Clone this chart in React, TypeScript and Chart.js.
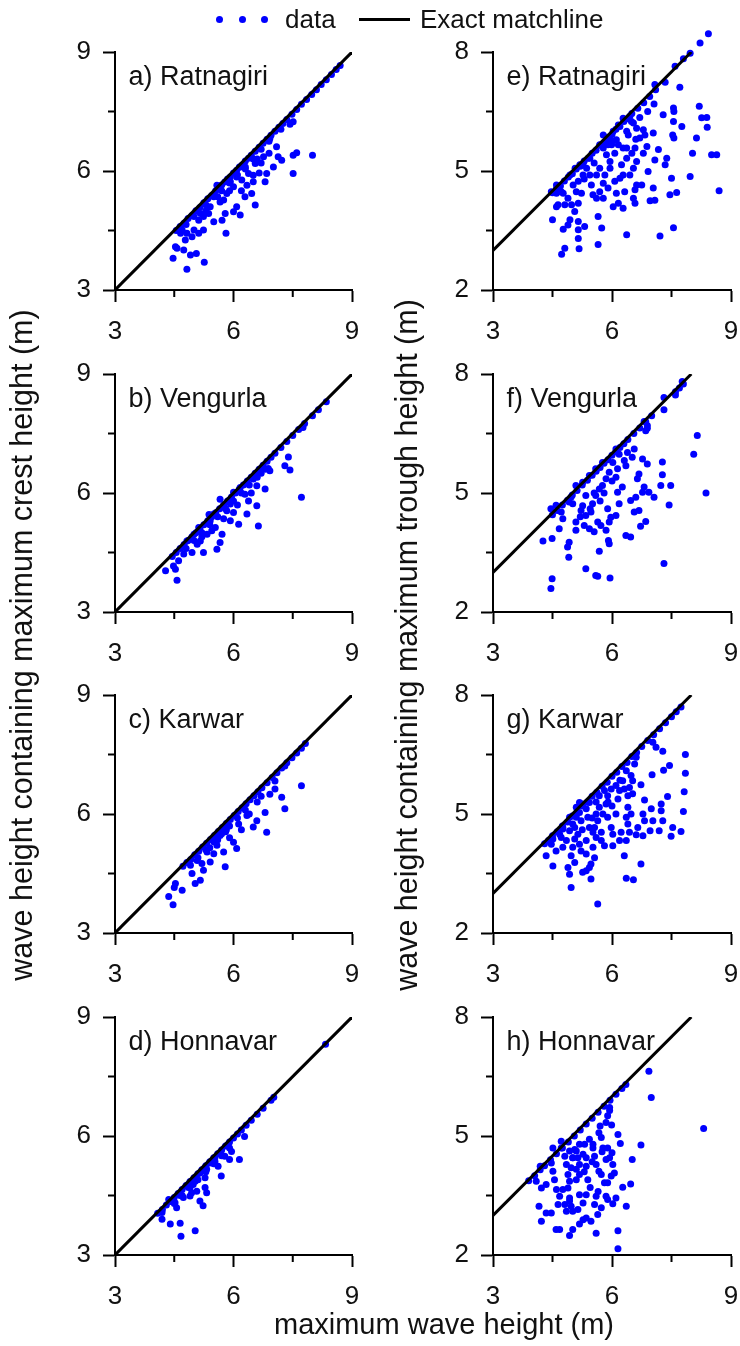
import React, { useEffect, useRef } from 'react';
import { Chart, registerables } from 'chart.js';

Chart.register(...registerables);

const FONT = "'Liberation Sans', Arial, Helvetica, sans-serif";
const TEXT = '#111';
const DOT = '#0000ff';
const DOT_R = 3.5;

type Pt = [number, number];

// ---------- tick labels / axis values ----------
const waveTicks = [3, 6, 9];
const waveMinor = [4.5, 7.5];
const crestTicks = [3, 6, 9];
const crestMinor = [4.5, 7.5];
const troughTicks = [2, 5, 8];
const troughMinor = [3.5, 6.5];
const crestMatch = [3, 9];
const troughMatch = [3, 8];

// ---------- data: [maximum wave height, crest/trough height] ----------
const crestRatnagiri: Pt[] = [
  [4.55,4.5],[4.65,4.6],[4.75,4.68],[4.85,4.8],[4.95,4.88],[5.05,5.0],[5.15,5.08],[5.25,5.2],[5.35,5.3],[5.45,5.38],
  [5.55,5.5],[5.62,5.55],[5.7,5.65],[5.78,5.72],[5.85,5.8],[5.92,5.85],[6.0,5.95],[6.08,6.02],[6.15,6.1],[6.22,6.15],
  [6.3,6.25],[6.38,6.32],[6.45,6.4],[6.55,6.5],[6.65,6.6],[6.75,6.7],[6.85,6.8],[6.95,6.9],[7.05,7.0],[7.15,7.1],
  [7.25,7.2],[7.35,7.3],[7.48,7.43],[7.6,7.55],[7.72,7.68],[7.85,7.8],[7.98,7.93],[8.1,8.05],[8.22,8.18],[8.35,8.3],
  [8.48,8.43],[8.6,8.56],[8.7,8.66],
  [5.3,5.15],[5.5,5.35],[5.7,5.5],[5.9,5.7],[6.1,5.9],[6.3,6.1],[6.5,6.3],[6.7,6.55],[5.0,4.85],[4.8,4.65],[6.9,6.75],[7.2,7.05],
  [7.51,7.24],[7.43,7.18],[7.09,6.61],[6.92,6.82],[6.76,6.36],[7.01,6.10],[7.13,6.36],[7.22,6.27],[7.51,6.40],[7.60,6.46],
  [8.0,6.40],[7.51,5.94],[6.84,5.94],[6.80,5.73],[6.55,6.19],[6.50,5.89],[6.5,5.73],[6.38,5.94],[6.34,5.64],[6.55,5.14],
  [6.46,5.43],[6.29,5.35],[6.21,5.77],[6.08,5.85],[6.0,5.60],[5.92,5.73],[6.17,4.89],[6.08,5.10],[6.0,4.97],[5.83,5.43],
  [5.75,5.27],[5.66,5.22],[5.79,4.93],[5.71,4.76],[5.50,4.72],[5.81,4.43],[5.41,5.10],[5.37,4.93],[5.24,4.85],[5.16,4.93],
  [5.12,4.76],[5.24,4.51],[5.12,4.43],[5.0,4.51],[4.82,4.43],[4.95,4.34],[4.70,4.51],[4.66,4.43],[4.78,4.26],[4.53,4.09],
  [4.57,4.05],[4.74,4.01],[4.47,3.80],[4.91,3.88],[5.06,3.92],[4.82,3.52],[5.26,3.70],[5.58,5.64],[6.17,6.10],[6.3,6.05],
  [6.6,6.3],[5.9,5.5],[5.6,5.35],[5.3,5.0],[6.7,6.2],[6.9,6.45],[6.2,5.5],[6.65,5.95],
];

const crestVengurla: Pt[] = [
  [4.45,4.4],[4.55,4.5],[4.65,4.6],[4.75,4.7],[4.85,4.8],[4.95,4.9],[5.05,5.0],[5.15,5.1],[5.25,5.2],[5.35,5.3],
  [5.45,5.4],[5.55,5.5],[5.65,5.6],[5.75,5.7],[5.85,5.8],[5.95,5.9],[6.05,6.0],[6.15,6.1],[6.25,6.2],[6.35,6.3],
  [6.45,6.4],[6.55,6.5],[6.65,6.6],[6.75,6.7],[6.85,6.8],[6.95,6.9],[7.05,7.0],[7.2,7.15],[7.35,7.3],[7.5,7.45],
  [7.65,7.6],[7.8,7.75],[8.0,7.95],[8.15,8.1],[8.35,8.3],
  [5.2,5.0],[5.4,5.2],[5.6,5.4],[5.8,5.6],[6.0,5.8],[6.2,6.0],[6.4,6.2],[6.6,6.4],[6.8,6.6],[5.0,4.8],[4.8,4.6],
  [7.72,5.89],[7.39,6.91],[7.30,6.69],[7.43,6.58],[7.76,7.65],[6.92,6.56],[6.88,6.62],[6.80,6.10],[6.59,6.18],[6.63,5.17],
  [6.59,5.68],[6.34,5.47],[6.38,5.80],[6.29,5.97],[6.17,6.14],[6.13,5.21],[6.0,5.51],[5.92,5.30],[5.92,5.72],[5.83,5.55],
  [5.71,4.96],[5.66,4.75],[5.58,4.58],[5.54,5.13],[5.50,5.47],[5.41,5.30],[5.33,4.96],[5.24,4.50],[5.16,4.79],[5.08,4.71],
  [5.0,4.96],[4.95,4.50],[4.74,4.46],[4.61,4.29],[4.53,4.08],[4.48,4.16],[4.28,4.04],[4.57,3.80],[4.82,4.79],[5.12,5.13],
  [5.38,5.46],[5.66,5.84],[6.0,6.02],[6.5,6.35],[6.7,6.5],[6.45,6.0],[6.1,5.7],[5.75,5.35],[5.45,5.05],[5.2,4.9],
];

const crestKarwar: Pt[] = [
  [4.72,4.68],[4.82,4.78],[4.92,4.85],[5.02,4.97],[5.12,5.06],[5.22,5.17],[5.32,5.26],[5.42,5.36],[5.52,5.46],[5.62,5.56],
  [5.72,5.66],[5.82,5.76],[5.92,5.86],[6.02,5.96],[6.12,6.06],[6.22,6.16],[6.32,6.26],[6.42,6.36],[6.52,6.46],[6.62,6.56],
  [6.72,6.66],[6.85,6.79],[6.98,6.92],[7.1,7.04],[7.22,7.16],[7.35,7.29],[7.48,7.42],[7.6,7.54],[7.72,7.66],[7.82,7.78],
  [5.1,4.9],[5.3,5.1],[5.5,5.3],[5.7,5.5],[5.9,5.7],[6.1,5.9],[6.3,6.1],[5.4,5.15],[5.6,5.35],[5.8,5.55],
  [7.72,6.71],[7.30,7.21],[7.05,6.83],[7.05,6.63],[6.92,6.5],[7.22,6.42],[7.30,6.13],[6.80,6.04],[6.84,5.54],[6.59,5.83],
  [6.50,5.67],[6.34,5.96],[6.13,5.75],[6.08,5.13],[6.0,5.29],[5.79,4.67],[5.75,5.04],[5.58,5.21],[5.41,4.79],[5.24,4.58],
  [5.16,4.33],[5.03,4.25],[4.70,4.08],[4.53,4.25],[4.36,3.92],[4.47,3.71],[4.91,4.71],[5.08,4.83],[5.33,5.04],[5.50,5.38],
  [5.66,5.46],[5.82,5.6],[6.2,5.6],[6.4,6.0],[6.6,6.3],[6.7,6.45],[5.9,5.4],[5.5,5.0],[5.2,4.75],[4.95,4.5],[4.5,4.15],
];

const crestHonnavar: Pt[] = [
  [4.08,4.05],[4.2,4.15],[4.3,4.26],[4.4,4.35],[4.5,4.45],[4.6,4.55],[4.7,4.65],[4.8,4.75],[4.9,4.85],[5.0,4.95],
  [5.1,5.05],[5.2,5.15],[5.3,5.25],[5.4,5.35],[5.5,5.45],[5.6,5.55],[5.7,5.65],[5.8,5.75],[5.9,5.85],[6.0,5.95],
  [6.1,6.05],[6.2,6.15],[6.32,6.27],[6.45,6.4],[6.6,6.55],[6.75,6.7],[6.95,6.9],[7.02,6.98],[8.33,8.31],
  [4.9,4.7],[5.1,4.9],[5.3,5.1],[5.5,5.3],[5.7,5.5],[5.9,5.7],[4.7,4.5],[4.5,4.3],
  [6.28,5.99],[6.15,5.41],[5.95,5.61],[5.90,5.41],[5.78,5.49],[5.86,5.78],[5.69,4.99],[5.61,5.24],[5.53,5.36],[5.40,5.32],
  [5.32,5.16],[5.28,4.95],[5.32,4.57],[5.28,4.70],[5.15,4.36],[5.23,4.24],[5.03,4.86],[5.07,4.61],[4.94,4.57],[4.90,4.49],
  [4.86,4.70],[4.73,4.45],[4.65,4.50],[4.56,4.19],[4.52,4.32],[4.36,4.40],[4.65,3.80],[4.40,3.78],[4.19,3.90],[4.19,4.07],
  [4.67,3.47],[5.03,3.61],[5.53,5.45],[5.15,5.07],[4.98,4.78],
];

const troughRatnagiri: Pt[] = [
  [4.5,4.45],[4.6,4.55],[4.7,4.62],[4.8,4.75],[4.9,4.85],[5.0,4.93],[5.1,5.05],[5.2,5.12],[5.3,5.25],[5.4,5.32],
  [5.5,5.45],[5.6,5.52],[5.7,5.65],[5.8,5.72],[5.9,5.85],[6.0,5.92],[6.1,6.05],[6.2,6.12],[6.3,6.25],[6.4,6.32],
  [6.5,6.45],[6.65,6.58],[6.8,6.72],[6.95,6.88],[7.1,7.05],
  [8.43,8.46],[8.22,8.23],[7.97,7.97],[7.80,7.83],[7.59,7.64],[7.34,7.24],[7.71,7.11],[7.08,7.18],[7.06,6.69],[7.29,6.42],
  [7.55,6.59],[7.56,6.50],[7.76,6.12],[7.55,6.25],[7.53,5.91],[7.56,5.83],[8.20,6.63],[8.26,6.34],[8.39,6.35],[8.40,6.10],
  [8.13,5.83],[8.03,5.45],[8.51,5.41],[8.64,5.41],[8.70,4.50],[7.97,4.86],[7.63,4.46],[7.46,4.40],[7.55,3.57],[7.21,3.36],
  [7.38,5.32],[7.34,5.16],[7.50,4.82],[7.08,5.28],[7.17,5.54],[7.04,5.96],[6.83,5.91],[6.88,5.62],[6.79,5.45],[6.91,4.99],
  [7.04,4.57],[6.96,4.25],[7.08,4.26],[6.79,6.04],[6.62,6.08],[6.54,6.21],[6.70,5.83],[6.58,5.58],[6.50,5.45],[6.62,5.24],
  [6.54,5.07],[6.45,4.90],[6.62,4.65],[6.75,4.65],[6.58,4.53],[6.54,4.31],[6.58,4.19],[6.32,4.48],[6.37,3.39],[6.28,4.06],
  [6.16,4.19],[6.03,4.10],[6.11,4.44],[6.28,4.90],[6.20,4.82],[6.07,4.74],[6.24,5.16],[6.37,5.32],[6.37,5.58],[6.28,5.58],
  [6.41,5.91],[6.37,6.0],[6.49,6.25],[6.45,6.38],[6.28,6.33],[6.11,5.79],[5.99,5.66],[6.16,5.66],[6.07,5.45],[5.86,5.41],
  [5.78,5.58],[5.69,5.66],[5.95,5.24],[5.95,5.07],[5.82,4.90],[5.69,5.07],[5.61,4.90],[5.78,4.69],[5.90,4.57],[5.69,4.48],
  [5.61,4.31],[5.78,4.31],[5.65,3.85],[5.74,3.56],[5.65,3.15],[5.48,4.65],[5.52,4.40],[5.44,4.90],[5.36,5.07],[5.27,5.16],
  [5.44,5.32],[5.27,4.90],[5.15,4.74],[5.02,4.65],[5.10,4.48],[5.23,4.44],[5.15,4.19],[4.98,4.15],[5.06,3.98],[5.15,3.73],
  [5.31,3.60],[5.15,3.52],[5.15,3.30],[5.17,3.04],[4.94,3.77],[4.89,3.64],[4.89,4.31],[4.77,4.44],[4.81,4.15],[4.72,4.48],
  [4.64,4.15],[4.60,4.10],[4.50,3.77],[4.77,3.53],[4.81,3.05],[4.73,2.90],[4.60,4.44],[4.47,4.48],[4.60,4.65],[4.94,4.90],
  [5.07,5.07],[5.19,5.16],[5.78,5.91],[5.95,5.83],[5.90,5.66],[6.03,6.0],[6.16,6.16],[6.0,5.75],[5.85,5.75],[5.55,5.2],
  [5.3,4.8],[6.6,5.8],[6.7,6.35],[6.9,6.5],
];

const troughVengurla: Pt[] = [
  [4.5,4.45],[4.62,4.56],[4.75,4.7],[4.88,4.82],[5.0,4.95],[5.12,5.06],[5.25,5.2],[5.38,5.32],[5.5,5.45],[5.6,5.55],
  [5.7,5.64],[5.8,5.75],[5.9,5.84],[6.0,5.95],[6.1,6.04],[6.2,6.15],[6.3,6.24],[6.4,6.35],[6.55,6.5],[6.7,6.64],
  [6.85,6.8],[7.0,6.95],[7.6,7.55],[7.7,7.65],[7.8,7.75],
  [7.77,7.81],[7.60,7.47],[7.31,7.41],[7.31,7.10],[6.89,6.70],[6.89,6.63],[6.85,6.57],[6.81,6.80],[8.15,6.45],[8.06,5.98],
  [8.37,5.00],[7.27,5.78],[7.27,5.46],[7.23,5.19],[7.48,5.19],[7.44,4.70],[7.31,3.22],[6.89,5.73],[6.77,5.86],[6.56,6.11],
  [6.51,5.90],[6.68,5.48],[6.64,5.36],[6.81,5.15],[6.77,5.02],[6.93,5.02],[7.06,4.89],[6.60,4.89],[6.47,4.81],[6.68,4.56],
  [6.56,4.52],[6.85,4.28],[6.72,4.16],[6.35,3.93],[6.47,3.89],[6.39,6.02],[6.35,5.69],[6.31,5.82],[6.18,5.98],[6.14,5.61],
  [6.10,5.40],[6.26,5.15],[6.14,5.02],[6.18,4.73],[6.10,4.43],[5.97,4.39],[5.89,4.60],[5.93,4.27],[5.85,4.06],[5.91,3.80],
  [5.93,3.72],[5.95,2.86],[5.68,3.53],[5.59,2.92],[5.64,2.90],[5.34,3.09],[5.72,4.18],[5.64,4.27],[5.55,4.02],[5.43,4.10],
  [5.30,4.18],[5.34,4.43],[5.47,4.52],[5.51,4.73],[5.59,4.94],[5.68,5.10],[5.76,5.19],[5.85,5.36],[5.93,5.52],[6.02,5.77],
  [6.10,6.11],[5.34,4.94],[5.26,4.68],[5.22,4.56],[5.09,4.27],[5.09,4.06],[4.92,3.76],[4.88,3.64],[4.91,3.38],[5.01,4.73],
  [4.97,4.90],[4.72,4.52],[4.76,4.35],[4.67,4.10],[4.49,3.85],[4.26,3.79],[4.46,2.59],[4.49,2.84],[4.46,4.60],[4.59,4.69],
  [4.92,4.77],[5.09,5.19],[5.26,5.27],[5.43,5.44],[5.59,5.61],[5.76,5.77],[5.55,5.0],[5.7,4.8],[5.45,4.6],[5.8,5.0],
  [6.0,5.3],[5.2,4.4],
];

const troughKarwar: Pt[] = [
  [4.3,4.25],[4.4,4.33],[4.5,4.45],[4.62,4.55],[4.75,4.7],[4.88,4.8],[5.0,4.95],[5.12,5.05],[5.25,5.2],[5.38,5.3],
  [5.5,5.45],[5.62,5.55],[5.75,5.7],[5.88,5.8],[6.0,5.95],[6.12,6.05],[6.25,6.2],[6.38,6.3],[6.5,6.45],[6.62,6.55],
  [6.75,6.7],[6.9,6.85],[7.05,7.0],[7.2,7.15],[7.35,7.3],[7.5,7.45],[7.62,7.58],[7.74,7.7],
  [7.03,6.81],[7.11,6.68],[7.28,6.58],[7.85,6.50],[7.45,6.22],[7.30,6.10],[7.01,5.99],[7.85,6.03],[7.82,5.56],[7.80,5.06],
  [7.74,4.56],[7.53,4.66],[7.49,4.44],[7.24,5.25],[7.24,5.08],[7.40,5.44],[7.28,4.83],[7.19,4.58],[6.96,4.58],[6.99,5.13],
  [6.82,5.35],[6.78,5.0],[7.03,4.83],[6.82,4.83],[6.78,4.45],[6.61,4.48],[6.65,4.66],[6.73,5.74],[6.73,3.74],[6.54,3.34],
  [6.36,3.38],[6.61,6.43],[6.57,6.26],[6.48,5.97],[6.52,5.84],[6.44,5.67],[6.40,5.46],[6.52,5.51],[6.36,6.09],[6.27,5.84],
  [6.31,5.63],[6.19,5.59],[6.15,5.38],[6.10,5.72],[6.40,5.17],[6.36,4.92],[6.48,5.0],[6.40,4.75],[6.23,4.54],[6.44,4.54],
  [6.36,4.33],[6.31,3.95],[6.19,4.33],[6.02,4.49],[6.02,4.20],[5.98,4.66],[6.10,5.0],[5.89,4.92],[5.85,5.25],[5.89,5.46],
  [5.98,5.63],[5.81,5.59],[5.68,5.46],[5.68,5.17],[5.77,5.0],[5.60,5.0],[5.64,4.83],[5.56,4.66],[5.73,4.54],[5.73,4.33],
  [5.81,4.20],[5.60,4.41],[5.52,4.54],[5.52,4.16],[5.35,4.33],[5.43,4.66],[5.39,4.92],[5.35,5.13],[5.43,5.29],[5.26,5.25],
  [5.18,5.04],[5.22,4.83],[5.10,4.92],[5.06,4.66],[5.14,4.49],[5.06,4.37],[5.18,4.24],[5.22,4.07],[5.35,3.99],[5.56,3.90],
  [5.47,3.74],[5.43,3.65],[5.35,3.57],[5.26,3.53],[5.47,3.36],[5.64,2.73],[4.97,3.15],[4.93,3.48],[4.89,3.65],[5.06,3.78],
  [4.97,3.95],[5.01,4.16],[4.85,4.33],[4.76,4.16],[4.72,4.41],[4.76,4.62],[4.93,4.58],[5.01,4.75],[4.93,4.92],[5.10,5.17],
  [5.18,5.29],[4.51,3.69],[4.34,3.95],[4.47,4.24],[4.51,4.37],[4.68,4.49],[4.76,4.66],[4.59,4.07],[5.6,5.3],[5.9,5.3],
  [6.2,5.85],[6.0,5.2],[5.5,4.9],[5.25,4.6],
];

const troughHonnavar: Pt[] = [
  [3.9,3.87],[4.05,4.0],[4.19,4.15],[4.3,4.25],[4.45,4.4],[4.6,4.55],[4.75,4.7],[4.9,4.85],[5.05,5.0],[5.2,5.15],
  [5.35,5.3],[5.5,5.45],[5.65,5.6],[5.8,5.75],[5.95,5.9],[6.1,6.05],[6.25,6.2],[6.35,6.3],
  [6.93,6.63],[6.99,5.97],[8.31,5.19],[6.73,4.77],[6.51,4.41],[6.47,3.79],[6.27,3.71],[6.36,3.23],[5.94,5.72],[5.94,5.64],
  [5.89,5.51],[5.99,5.28],[5.85,5.34],[5.70,5.25],[5.67,5.08],[5.73,4.96],[5.77,4.70],[5.89,4.70],[6.15,5.04],[6.21,4.81],
  [6.0,4.58],[5.94,4.45],[5.85,4.41],[6.02,4.28],[6.06,4.07],[5.98,3.99],[5.89,3.82],[5.81,3.82],[5.73,4.03],[5.67,4.11],
  [5.60,4.28],[5.56,4.49],[5.52,4.70],[5.43,4.92],[5.52,4.79],[5.31,4.79],[5.27,4.54],[5.14,4.45],[5.18,4.28],[5.06,4.66],
  [5.01,4.45],[4.93,4.62],[5.10,4.62],[5.35,4.45],[5.39,3.90],[5.35,4.24],[5.18,4.03],[5.10,4.16],[4.97,4.20],[4.89,4.03],
  [4.93,3.86],[4.89,3.69],[4.76,3.65],[4.68,3.48],[4.93,3.44],[4.97,3.23],[4.85,3.10],[4.81,3.27],[4.64,3.27],[4.60,3.65],
  [4.55,3.90],[4.51,4.11],[4.47,4.32],[4.34,3.78],[4.22,3.69],[4.09,3.86],[4.19,4.24],[4.51,4.70],[4.72,4.70],[4.81,4.49],
  [4.85,4.28],[5.01,4.45],[5.18,4.79],[4.72,4.87],[4.16,3.23],[4.22,2.85],[4.34,3.06],[4.47,3.06],[4.59,2.64],[4.68,2.64],
  [4.93,2.49],[5.01,2.64],[5.18,2.78],[5.27,2.89],[5.35,2.93],[5.47,2.85],[5.64,3.02],[5.60,2.55],[5.73,3.19],[5.56,3.27],
  [5.85,3.48],[5.89,3.40],[6.02,3.29],[6.10,3.44],[6.15,2.61],[6.15,2.16],[5.27,3.31],[5.14,3.15],[5.01,3.10],[5.35,3.52],
  [5.18,3.52],[4.93,3.36],[5.60,3.48],[5.45,3.7],[5.65,3.6],[5.3,4.1],[5.5,4.35],[5.75,4.6],[5.1,3.9],
];

type PanelDef = { label: string; data: Pt[]; col: number; row: number };

const panels: PanelDef[] = [
  { label: 'a) Ratnagiri', data: crestRatnagiri, col: 0, row: 0 },
  { label: 'b) Vengurla', data: crestVengurla, col: 0, row: 1 },
  { label: 'c) Karwar', data: crestKarwar, col: 0, row: 2 },
  { label: 'd) Honnavar', data: crestHonnavar, col: 0, row: 3 },
  { label: 'e) Ratnagiri', data: troughRatnagiri, col: 1, row: 0 },
  { label: 'f) Vengurla', data: troughVengurla, col: 1, row: 1 },
  { label: 'g) Karwar', data: troughKarwar, col: 1, row: 2 },
  { label: 'h) Honnavar', data: troughHonnavar, col: 1, row: 3 },
];

const ROW_STEP = 321.5;
const CANVAS_W = 370;
const CANVAS_H = 360;

const extrasPlugin = {
  id: 'panelExtras',
  afterDatasetsDraw(chart: any) {
    // Chart.js skips points that fall outside the chart area; the reference shows them, so draw those here
    const { ctx, chartArea } = chart;
    const meta = chart.getDatasetMeta(1);
    ctx.save();
    ctx.fillStyle = DOT;
    for (const el of meta.data as any[]) {
      if (el.y < chartArea.top - DOT_R || el.x > chartArea.right + DOT_R) {
        ctx.beginPath();
        ctx.arc(el.x, el.y, DOT_R, 0, Math.PI * 2);
        ctx.fill();
      }
    }
    ctx.restore();
  },
  afterDraw(chart: any, _args: any, opts: any) {
    const { ctx, chartArea, scales } = chart;
    ctx.save();
    ctx.strokeStyle = '#000';
    ctx.lineWidth = 2;
    ctx.beginPath();
    for (const v of opts.xMinor as number[]) {
      const px = scales.x.getPixelForValue(v);
      ctx.moveTo(px, chartArea.bottom);
      ctx.lineTo(px, chartArea.bottom + 7);
    }
    for (const v of opts.yMinor as number[]) {
      const py = scales.y.getPixelForValue(v);
      ctx.moveTo(chartArea.left, py);
      ctx.lineTo(chartArea.left - 7, py);
    }
    ctx.stroke();
    ctx.fillStyle = TEXT;
    ctx.font = `27px ${FONT}`;
    ctx.textBaseline = 'alphabetic';
    ctx.textAlign = 'left';
    ctx.fillText(opts.text, chartArea.left + 13.5, chartArea.top + 33);
    ctx.restore();
  },
};

function Panel({ p }: { p: PanelDef }) {
  const ref = useRef<HTMLCanvasElement>(null);
  useEffect(() => {
    const isCrest = p.col === 0;
    const yTicks = isCrest ? crestTicks : troughTicks;
    const yMinor = isCrest ? crestMinor : troughMinor;
    const match = isCrest ? crestMatch : troughMatch;
    const axisCommon = {
      type: 'linear' as const,
      border: { display: true, color: '#000', width: 2 },
      grid: {
        display: true,
        drawOnChartArea: false,
        drawTicks: true,
        tickLength: 12,
        tickWidth: 2,
        tickColor: '#000',
      },
    };
    const chart = new Chart(ref.current as HTMLCanvasElement, {
      type: 'scatter',
      data: {
        datasets: [
          {
            type: 'line',
            data: match.map((v) => ({ x: v, y: v })),
            borderColor: '#000',
            borderWidth: 3,
            pointRadius: 0,
            fill: false,
            tension: 0,
          } as any,
          {
            type: 'scatter',
            data: p.data.map(([x, y]) => ({ x, y })),
            backgroundColor: DOT,
            borderColor: DOT,
            borderWidth: 0,
            pointRadius: DOT_R,
            clip: false,
          } as any,
        ],
      },
      options: {
        animation: false,
        responsive: false,
        devicePixelRatio: 1,
        events: [],
        layout: { padding: { top: 52, right: isCrest ? 18 : 9, bottom: 10, left: 0 } },
        plugins: {
          legend: { display: false },
          tooltip: { enabled: false },
          panelExtras: { text: p.label, xMinor: waveMinor, yMinor },
        } as any,
        scales: {
          x: {
            ...axisCommon,
            min: waveTicks[0],
            max: waveTicks[waveTicks.length - 1],
            afterBuildTicks: (s: any) => {
              s.ticks = waveTicks.map((v) => ({ value: v }));
            },
            afterFit: (s: any) => {
              s.height = 60;
              s.paddingLeft = 0;
              s.paddingRight = 0;
            },
            ticks: {
              color: TEXT,
              font: { family: FONT, size: 26 },
              padding: 14,
              maxRotation: 0,
              autoSkip: false,
              callback: (v: any) => String(v),
            },
          },
          y: {
            ...axisCommon,
            min: yTicks[0],
            max: yTicks[yTicks.length - 1],
            afterBuildTicks: (s: any) => {
              s.ticks = yTicks.map((v) => ({ value: v }));
            },
            afterFit: (s: any) => {
              s.width = isCrest ? 115 : 123;
              s.paddingTop = 0;
              s.paddingBottom = 0;
            },
            ticks: {
              color: TEXT,
              font: { family: FONT, size: 26 },
              padding: 12,
              autoSkip: false,
              callback: (v: any) => String(v),
            },
          },
        },
      } as any,
      plugins: [extrasPlugin],
    });
    return () => chart.destroy();
  }, [p]);
  return (
    <canvas
      ref={ref}
      width={CANVAS_W}
      height={CANVAS_H}
      style={{
        position: 'absolute',
        left: p.col * 370,
        top: Math.round(p.row * ROW_STEP),
        width: CANVAS_W,
        height: CANVAS_H,
      }}
    />
  );
}

const textBase: React.CSSProperties = {
  position: 'absolute',
  fontFamily: FONT,
  color: TEXT,
  whiteSpace: 'nowrap',
};

function Dot({ cx }: { cx: number }) {
  return (
    <div
      style={{
        position: 'absolute',
        left: cx - 3.5,
        top: 16,
        width: 7,
        height: 7,
        borderRadius: '50%',
        background: DOT,
      }}
    />
  );
}

const vTitle = (cx: number, cy: number): React.CSSProperties => ({
  ...textBase,
  left: cx - 450,
  top: cy - 18,
  width: 900,
  height: 36,
  lineHeight: '36px',
  fontSize: 30.5,
  textAlign: 'center',
  transform: 'rotate(-90deg)',
  transformOrigin: '50% 50%',
});

export default function App() {
  return (
    <div
      style={{
        position: 'absolute',
        left: 0,
        top: 0,
        width: 740,
        height: 1346,
        background: '#fff',
        overflow: 'hidden',
      }}
    >
      {panels.map((p) => (
        <Panel key={p.label} p={p} />
      ))}
      {/* legend */}
      <Dot cx={219} />
      <Dot cx={242} />
      <Dot cx={264} />
      <div style={{ ...textBase, left: 285, top: 6, fontSize: 26, lineHeight: '26px' }}>data</div>
      <div style={{ position: 'absolute', left: 359, top: 18, width: 51, height: 3, background: '#000' }} />
      <div style={{ ...textBase, left: 420, top: 6, fontSize: 26, lineHeight: '26px' }}>Exact matchline</div>
      {/* axis titles */}
      <div style={vTitle(21, 645)}>wave height containing maximum crest height (m)</div>
      <div style={vTitle(406, 645)}>wave height containing maximum trough height (m)</div>
      <div
        style={{
          ...textBase,
          left: 444 - 300,
          top: 1310,
          width: 600,
          lineHeight: '29px',
          fontSize: 29,
          textAlign: 'center',
        }}
      >
        maximum wave height (m)
      </div>
    </div>
  );
}
